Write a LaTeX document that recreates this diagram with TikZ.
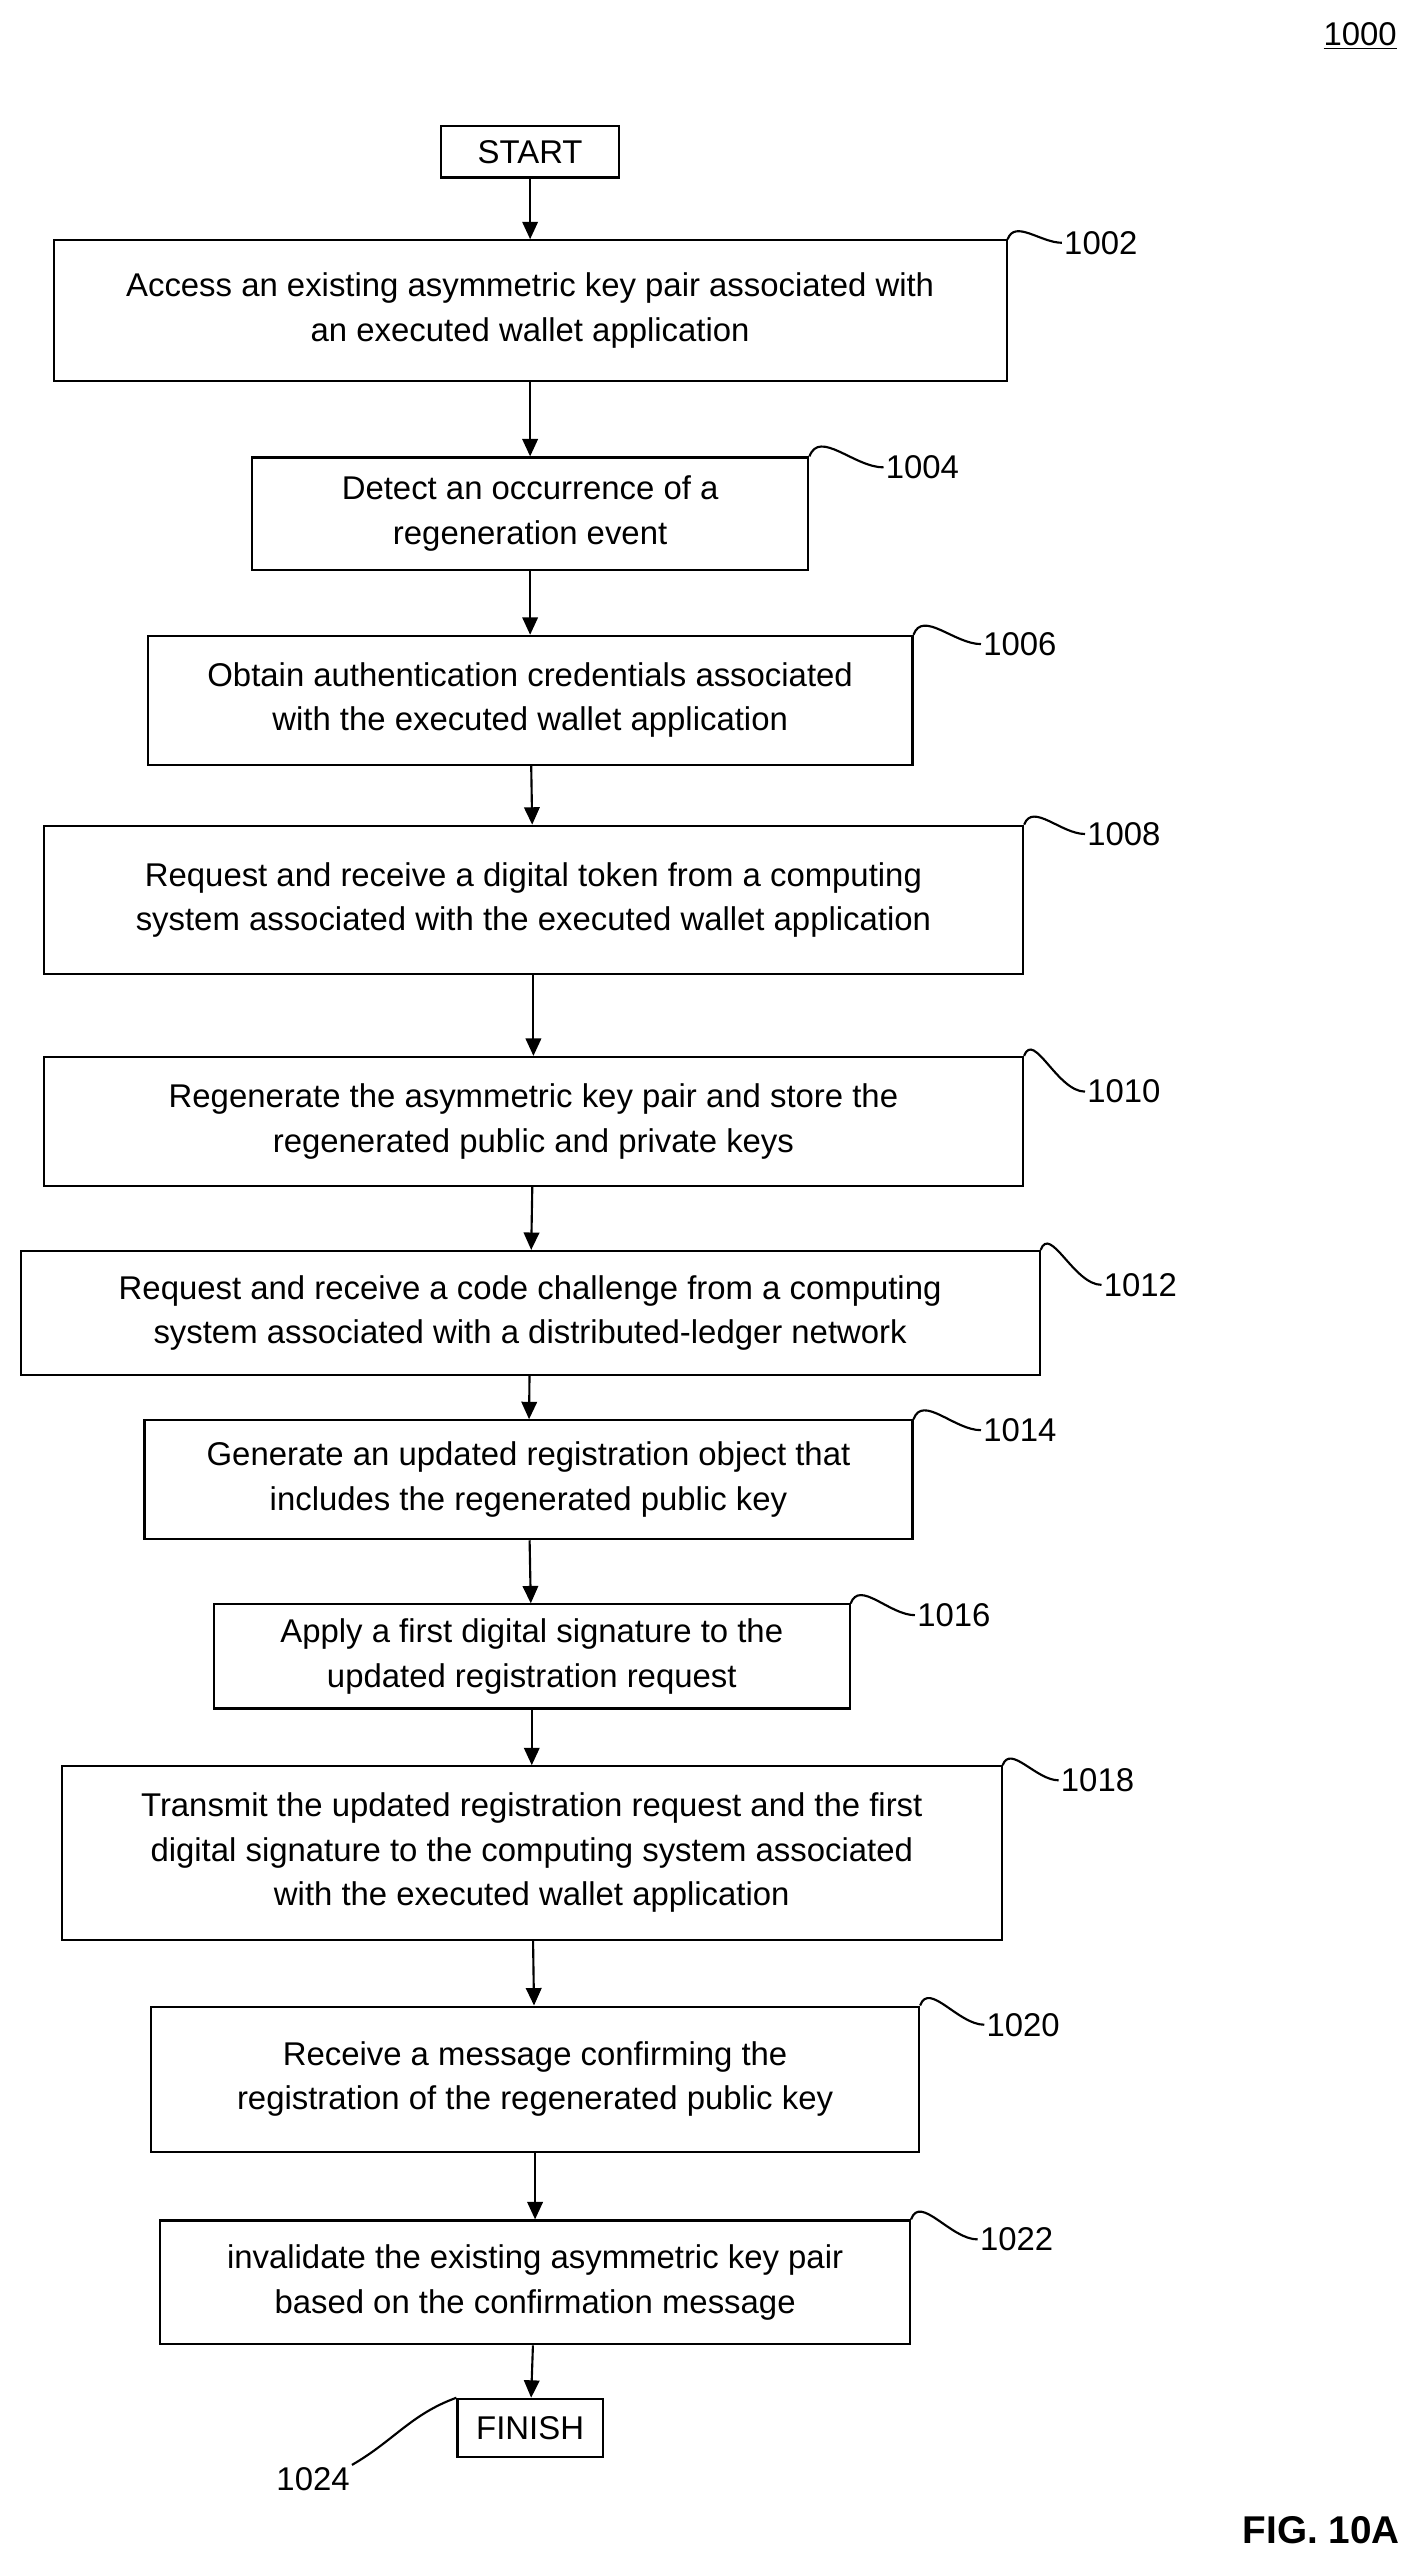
\documentclass[tikz,border=0pt]{standalone}
\usepackage{fontspec}
\setmainfont{Liberation Sans}
\usetikzlibrary{arrows.meta,positioning}
\tikzset{
  box/.style = {
    draw, line width=1.1pt, align=center, inner sep=2pt,
    font=\fontsize{17}{23}\selectfont
  },
  flow/.style = {
    -{Triangle[length=9pt,width=8pt]},
    line width=1.1pt
  },
  lead/.style = {
    line width=1.1pt
  },
  num/.style = {
    font=\fontsize{17}{20}\selectfont, anchor=west, inner sep=1pt
  }
}
\begin{document}
\begin{tikzpicture}[x=0.03cm,y=-0.03cm]
    \useasboundingbox (0,0) rectangle (862,1558);
    \node[num] at (800,22) {\underline{1000}};

    \node[box, minimum width=108*0.03cm, minimum height=31*0.03cm] (start) at (321,92) {START};
    \node[box, minimum width=577*0.03cm, minimum height=85*0.03cm] (s1002) at (321,188) {Access an existing asymmetric key pair associated with\\an executed wallet application};
    \node[box, minimum width=337*0.03cm, minimum height=68*0.03cm] (s1004) at (321,311) {Detect an occurrence of a\\regeneration event};
    \node[box, minimum width=463*0.03cm, minimum height=78*0.03cm] (s1006) at (321,424) {Obtain authentication credentials associated\\with the executed wallet application};
    \node[box, minimum width=593*0.03cm, minimum height=90*0.03cm] (s1008) at (323,545) {Request and receive a digital token from a computing\\system associated with the executed wallet application};
    \node[box, minimum width=593*0.03cm, minimum height=78*0.03cm] (s1010) at (323,679) {Regenerate the asymmetric key pair and store the\\regenerated public and private keys};
    \node[box, minimum width=617*0.03cm, minimum height=75*0.03cm] (s1012) at (321,795) {Request and receive a code challenge from a computing\\system associated with a distributed-ledger network};
    \node[box, minimum width=465*0.03cm, minimum height=72*0.03cm] (s1014) at (320,896) {Generate an updated registration object that\\includes the regenerated public key};
    \node[box, minimum width=385*0.03cm, minimum height=63*0.03cm] (s1016) at (322,1003) {Apply a first digital signature to the\\updated registration request};
    \node[box, minimum width=569*0.03cm, minimum height=105*0.03cm] (s1018) at (322,1122) {Transmit the updated registration request and the first\\digital signature to the computing system associated\\with the executed wallet application};
    \node[box, minimum width=465*0.03cm, minimum height=88*0.03cm] (s1020) at (324,1259) {Receive a message confirming the\\registration of the regenerated public key};
    \node[box, minimum width=454*0.03cm, minimum height=75*0.03cm] (s1022) at (324,1382) {invalidate the existing asymmetric key pair\\based on the confirmation message};
    \node[box, minimum width=88*0.03cm, minimum height=35*0.03cm] (finish) at (321,1470) {FINISH};

    \draw[flow] (start) -- (s1002);
    \draw[flow] (s1002) -- (s1004);
    \draw[flow] (s1004) -- (s1006);
    \draw[flow] (s1006) -- (s1008);
    \draw[flow] (s1008) -- (s1010);
    \draw[flow] (s1010) -- (s1012);
    \draw[flow] (s1012) -- (s1014);
    \draw[flow] (s1014) -- (s1016);
    \draw[flow] (s1016) -- (s1018);
    \draw[flow] (s1018) -- (s1020);
    \draw[flow] (s1020) -- (s1022);
    \draw[flow] (s1022) -- (finish);

    % reference numerals
    \node[num] (n1002) at (643,147) {1002};
    \node[num] (n1004) at (535,283) {1004};
    \node[num] (n1006) at (594,390) {1006};
    \node[num] (n1008) at (657,505) {1008};
    \node[num] (n1010) at (657,661) {1010};
    \node[num] (n1012) at (667,778) {1012};
    \node[num] (n1014) at (594,866) {1014};
    \node[num] (n1016) at (554,978) {1016};
    \node[num] (n1018) at (641,1078) {1018};
    \node[num] (n1020) at (596,1226) {1020};
    \node[num] (n1022) at (592,1356) {1022};
    \node[num] (n1024) at (166,1501) {1024};
    \node[font=\bfseries\fontsize{20}{24}\selectfont] (fig) at (800,1532) {FIG. 10A};

    \draw[lead] (s1002.north east) to[out=70,in=180] (n1002.west);
    \draw[lead] (s1004.north east) to[out=70,in=180] (n1004.west);
    \draw[lead] (s1006.north east) to[out=70,in=180] (n1006.west);
    \draw[lead] (s1008.north east) to[out=70,in=180] (n1008.west);
    \draw[lead] (s1010.north east) to[out=70,in=180] (n1010.west);
    \draw[lead] (s1012.north east) to[out=70,in=180] (n1012.west);
    \draw[lead] (s1014.north east) to[out=70,in=180] (n1014.west);
    \draw[lead] (s1016.north east) to[out=70,in=180] (n1016.west);
    \draw[lead] (s1018.north east) to[out=70,in=180] (n1018.west);
    \draw[lead] (s1020.north east) to[out=70,in=180] (n1020.west);
    \draw[lead] (s1022.north east) to[out=70,in=180] (n1022.west);
    \draw[lead] (finish.north west) to[out=200,in=30] (n1024.north east);
\end{tikzpicture}
\end{document}
